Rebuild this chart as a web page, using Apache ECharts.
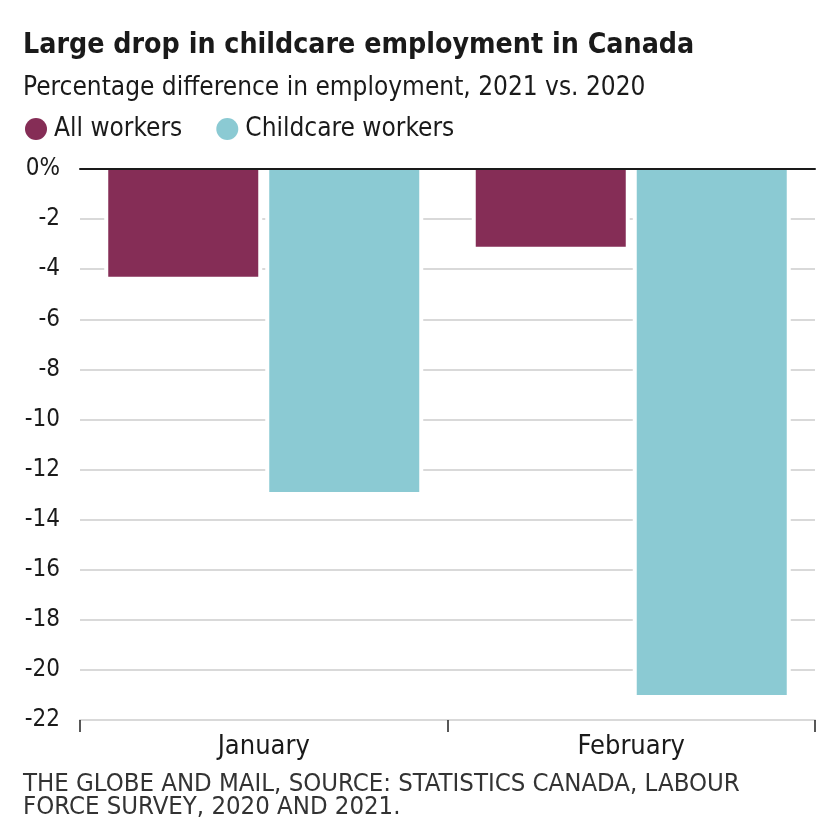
<!DOCTYPE html>
<html>
<head>
<meta charset="utf-8">
<script src="https://cdn.jsdelivr.net/npm/echarts@6/dist/echarts.min.js"></script>
<style>html,body{margin:0;padding:0;background:#fff}#c{width:838px;height:840px}</style>
</head>
<body>
<div id="c"></div>
<script>
const categories = ['January', 'February'];
const allWorkers = [-4.3, -3.1];
const childcareWorkers = [-12.9, -21.0];
const seriesNames = ['All workers', 'Childcare workers'];
const titleText = 'Large drop in childcare employment in Canada';
const subtitleText = 'Percentage difference in employment, 2021 vs. 2020';
const footerLines = ['THE GLOBE AND MAIL, SOURCE: STATISTICS CANADA, LABOUR', 'FORCE SURVEY, 2020 AND 2021.'];

const FONT = '"Liberation Sans Narrow", "DejaVu Sans Condensed", sans-serif';
const chart = echarts.init(document.getElementById('c'), null, {renderer: 'canvas'});
chart.setOption({
  backgroundColor: '#fff',
  animation: false,
  title: [
    {text: titleText, left: 18, top: 27, textStyle: {fontFamily: FONT, fontWeight: 'bold', fontSize: 28.3, color: '#1a1a1a'}},
    {text: subtitleText, left: 18, top: 70, textStyle: {fontFamily: FONT, fontWeight: 'normal', fontSize: 26, color: '#1a1a1a'}},
    {text: footerLines.join('\n'), left: 18, top: 768, textStyle: {fontFamily: FONT, fontWeight: 'normal', fontSize: 25.5, lineHeight: 23, color: '#333'}}
  ],
  legend: {
    left: 20, top: 111, icon: 'circle', itemWidth: 22, itemHeight: 22, itemGap: 34,
    textStyle: {fontFamily: FONT, fontSize: 26, color: '#1a1a1a', padding: [0, 0, 0, 2]},
    itemStyle: {borderWidth: 0},
    data: seriesNames
  },
  grid: {left: 80, right: 23, top: 169, bottom: 120, containLabel: false},
  xAxis: [
    {
      type: 'category', data: categories, position: 'bottom',
      axisLine: {onZero: false, lineStyle: {color: '#d9d9d9', width: 2}},
      axisTick: {show: true, length: 12, lineStyle: {color: '#222', width: 1.5}},
      axisLabel: {fontFamily: FONT, fontSize: 27, color: '#1a1a1a', margin: 13},
      splitLine: {show: false}
    },
    {
      type: 'category', data: categories, position: 'top', z: 10,
      axisLine: {onZero: false, lineStyle: {color: '#1a1a1a', width: 2}},
      axisTick: {show: false}, axisLabel: {show: false}
    }
  ],
  yAxis: {
    type: 'value', min: -22, max: 0, interval: 2,
    axisLine: {show: false}, axisTick: {show: false},
    axisLabel: {fontFamily: FONT, fontSize: 24, color: '#1a1a1a', margin: 20,
      formatter: v => v === 0 ? '0%' : String(v)},
    splitLine: {lineStyle: {color: '#d9d9d9', width: 2}}
  },
  series: [
    {name: seriesNames[0], type: 'bar', data: allWorkers, barWidth: 150, barGap: '7.33%', z: 3,
      itemStyle: {color: '#852d56'}},
    {name: seriesNames[1], type: 'bar', data: childcareWorkers, barWidth: 150, z: 3,
      itemStyle: {color: '#8bcad3'}},
    {name: 'halo1', type: 'bar', xAxisIndex: 1, data: allWorkers, barWidth: 158, barGap: '1.9%', z: 1, silent: true,
      itemStyle: {color: '#fff'}},
    {name: 'halo2', type: 'bar', xAxisIndex: 1, data: childcareWorkers, barWidth: 158, z: 1, silent: true,
      itemStyle: {color: '#fff'}}
  ]
});
</script>
</body>
</html>
